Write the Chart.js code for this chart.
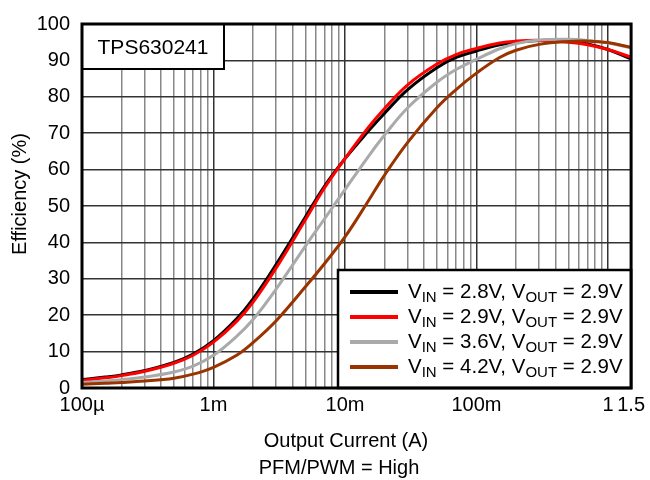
<!DOCTYPE html>
<html>
<head>
<meta charset="utf-8">
<title>TPS630241 Efficiency</title>
<script src="https://cdn.jsdelivr.net/npm/chart.js@4.4.0/dist/chart.umd.min.js"></script>
<style>
    body { margin: 0; background: #ffffff; }
    canvas { display: block; }
</style>
</head>
<body>
<canvas id="effChart" width="650" height="480"></canvas>
<script>
// Output current (A), log axis
const currents = [1e-4, 1.5e-4, 2e-4, 3e-4, 5e-4, 7e-4, 1e-3, 1.5e-3, 2e-3, 3e-3, 5e-3, 7e-3,
    1e-2, 1.5e-2, 2e-2, 3e-2, 5e-2, 7e-2, 0.1, 0.15, 0.2, 0.3, 0.5, 0.7, 1, 1.5];

// Efficiency (%) per input voltage
const effVin28 = [2.3, 3.0, 3.6, 4.8, 7.0, 9.3, 13.0, 19.0, 24.5, 34.0, 47.0, 55.5,
    63.0, 70.5, 75.5, 82.0, 88.0, 90.8, 92.6, 94.3, 95.0, 95.5, 95.3, 94.5, 93.0, 90.4];
const effVin29 = [2.1, 2.8, 3.4, 4.6, 6.8, 9.0, 12.6, 18.3, 23.6, 33.0, 46.2, 55.0,
    63.0, 71.5, 76.8, 83.3, 89.0, 91.6, 93.3, 94.8, 95.3, 95.5, 95.0, 94.3, 93.0, 90.9];
const effVin36 = [1.5, 1.9, 2.3, 3.0, 4.4, 6.0, 9.0, 14.2, 18.8, 27.2, 39.0, 46.5,
    54.5, 63.5, 69.5, 77.0, 84.0, 87.5, 90.3, 93.2, 94.6, 95.6, 95.8, 95.5, 94.8, 93.4];
const effVin42 = [1.0, 1.3, 1.5, 1.9, 2.7, 3.8, 5.7, 9.0, 12.5, 18.5, 27.8, 34.2,
    41.5, 51.3, 58.5, 67.5, 77.0, 82.0, 86.5, 90.8, 92.8, 94.4, 95.2, 95.3, 94.9, 93.6];

const vinLabels = ["2.8V", "2.9V", "3.6V", "4.2V"];
const voutLabel = "2.9V";
const lineColors = ["#000000", "#ff0000", "#aaaaaa", "#993300"];

// Tick labels
const xTickValues = [1e-4, 1e-3, 1e-2, 1e-1, 1, 1.5];
const xTickLabels = ["100µ", "1m", "10m", "100m", "1", "1.5"];
const yTickValues = [0, 10, 20, 30, 40, 50, 60, 70, 80, 90, 100];

const deviceName = "TPS630241";
const xTitle = "Output Current (A)";
const xSubTitle = "PFM/PWM = High";
const yTitle = "Efficiency (%)";

const FONT = "'Liberation Sans', Arial, sans-serif";

document.addEventListener("DOMContentLoaded", () => {
    const ctx = document.getElementById("effChart").getContext("2d");

    function isMajor(value) {
        return xTickValues.some(v => Math.abs(v - value) / v < 1e-6);
    }

    function xLabel(value) {
        const i = xTickValues.findIndex(v => Math.abs(v - value) / v < 1e-6);
        return i >= 0 ? xTickLabels[i] : "";
    }

    // all vertical grid positions: 1..9 per decade, plus the labelled ends
    function buildXTicks() {
        const ticks = [];
        for (let d = 0; d < 4; d++) {
            for (let k = 1; k <= 9; k++) {
                ticks.push({ value: xTickValues[d] * k });
            }
        }
        ticks.push({ value: 1 });
        ticks.push({ value: 1.5 });
        return ticks;
    }

    // draw text with subscript parts: [[text, isSub], ...]
    function drawRich(c, parts, x, y, size) {
        let cx = x;
        parts.forEach(([txt, sub]) => {
            c.font = (sub ? Math.round(size * 0.72) : size) + "px " + FONT;
            c.fillText(txt, cx, sub ? y + size * 0.28 : y);
            cx += c.measureText(txt).width;
        });
    }

    const overlayPlugin = {
        id: "overlay",
        afterDraw(chart) {
            const c = chart.ctx;
            const a = chart.chartArea;
            c.save();

            // device box
            c.fillStyle = "#ffffff";
            c.fillRect(a.left, a.top, 142, 45);
            c.strokeStyle = "#000000";
            c.lineWidth = 2;
            c.strokeRect(a.left, a.top, 142, 45);
            c.fillStyle = "#000000";
            c.font = "21px " + FONT;
            c.textAlign = "center";
            c.textBaseline = "middle";
            c.fillText(deviceName, a.left + 71, a.top + 24);

            // legend box
            const lx = 338, ly = 270;
            c.fillStyle = "#ffffff";
            c.fillRect(lx, ly, a.right - lx, a.bottom - ly);
            c.lineWidth = 2.5;
            c.strokeRect(lx, ly, a.right - lx, a.bottom - ly);
            c.textAlign = "left";
            c.textBaseline = "middle";
            vinLabels.forEach((vin, i) => {
                const ry = 292 + i * 25;
                c.strokeStyle = lineColors[i];
                c.lineWidth = 4;
                c.beginPath();
                c.moveTo(350, ry);
                c.lineTo(398, ry);
                c.stroke();
                c.fillStyle = "#000000";
                drawRich(c, [["V", false], ["IN", true], [" = " + vin + ", V", false],
                    ["OUT", true], [" = " + voutLabel, false]], 408, ry, 20.5);
            });

            // plot frame
            c.strokeStyle = "#000000";
            c.lineWidth = 3;
            c.strokeRect(a.left, a.top, a.right - a.left, a.bottom - a.top);

            // axis titles
            c.fillStyle = "#000000";
            c.font = "20px " + FONT;
            c.textAlign = "center";
            c.fillText(xTitle, 346, 441);
            c.fillText(xSubTitle, 339, 468);
            c.translate(20, 194);
            c.rotate(-Math.PI / 2);
            c.fillText(yTitle, 0, 0);

            c.restore();
        }
    };

    const seriesData = [effVin28, effVin29, effVin36, effVin42];

    new Chart(ctx, {
        type: "line",
        data: {
            datasets: seriesData.map((eff, i) => ({
                label: "VIN = " + vinLabels[i] + ", VOUT = " + voutLabel,
                data: currents.map((x, j) => ({ x: x, y: eff[j] })),
                borderColor: lineColors[i],
                borderWidth: 3,
                pointRadius: 0,
                fill: false,
                tension: 0.4,
                order: 4 - i
            }))
        },
        options: {
            responsive: false,
            animation: false,
            layout: { padding: { top: 16, right: 18, left: 0, bottom: 0 } },
            plugins: {
                legend: { display: false },
                tooltip: { enabled: false }
            },
            scales: {
                x: {
                    type: "logarithmic",
                    min: 1e-4,
                    max: 1.5,
                    afterBuildTicks: scale => { scale.ticks = buildXTicks(); },
                    afterFit: scale => { scale.height = 92; },
                    border: { display: false },
                    grid: {
                        drawTicks: false,
                        lineWidth: 1.5,
                        color: c => isMajor(c.tick.value) ? "#333333" : "#888888"
                    },
                    ticks: {
                        autoSkip: false,
                        maxRotation: 0,
                        padding: 5,
                        color: "#000000",
                        font: { family: FONT, size: 20 },
                        callback: value => xLabel(value)
                    }
                },
                y: {
                    min: 0,
                    max: 100,
                    afterBuildTicks: scale => { scale.ticks = yTickValues.map(v => ({ value: v })); },
                    afterFit: scale => { scale.width = 82; },
                    border: { display: false },
                    grid: {
                        drawTicks: false,
                        lineWidth: 1.5,
                        color: "#333333"
                    },
                    ticks: {
                        padding: 12,
                        color: "#000000",
                        font: { family: FONT, size: 20 }
                    }
                }
            }
        },
        plugins: [overlayPlugin]
    });
});
</script>
</body>
</html>
